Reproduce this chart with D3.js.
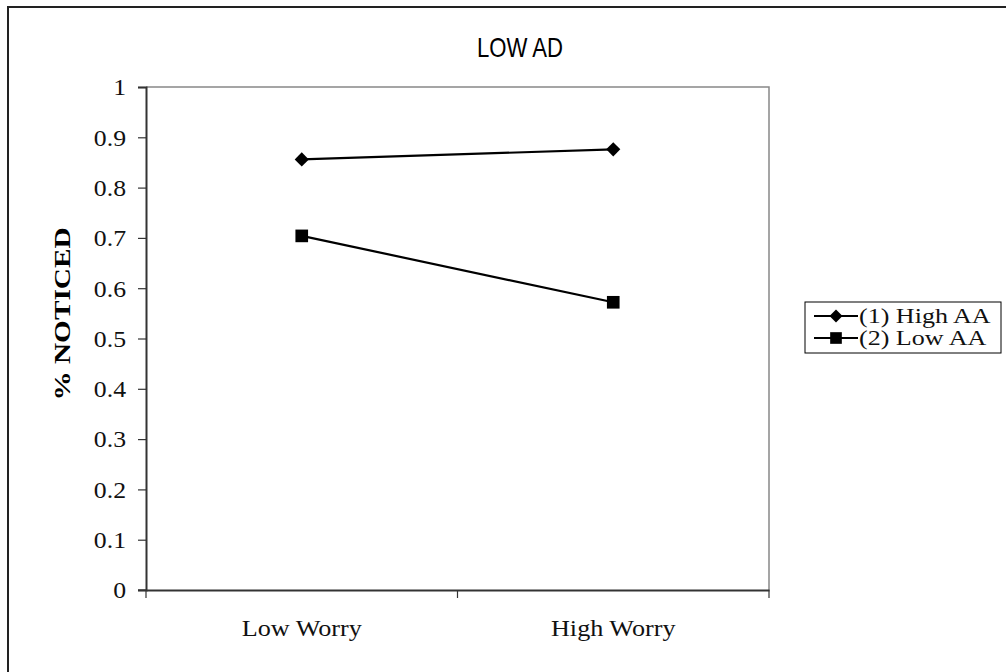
<!DOCTYPE html>
<html><head><meta charset="utf-8">
<script src="https://cdn.jsdelivr.net/npm/d3@7"></script>
<style>body{margin:0;background:#fff;}svg{display:block;}</style>
</head><body>
<svg id="c" width="1006" height="672"></svg>
<script>
const categories = ["Low Worry", "High Worry"];
const seriesNames = ["(1) High AA", "(2) Low AA"];
const highAA = [0.856, 0.876];
const lowAA = [0.704, 0.572];
const yTicks = [0, 0.1, 0.2, 0.3, 0.4, 0.5, 0.6, 0.7, 0.8, 0.9, 1];
const title = "LOW AD";
const yTitle = "% NOTICED";

const svg = d3.select("#c");
svg.append("rect").attr("x", 8).attr("y", 7).attr("width", 1100).attr("height", 800)
  .attr("fill", "#fff").attr("stroke", "#222").attr("stroke-width", 2);

const L = 146, R = 769, T = 87, B = 590;
const x = d3.scaleBand().domain(categories).range([L, R]);
const y = d3.scaleLinear().domain([0, 1]).range([B, T]);
const serif = "'Liberation Serif','Times New Roman',serif";

function stretch(sel, f) {
  sel.each(function () {
    const len = this.getComputedTextLength();
    d3.select(this).attr("textLength", len * f).attr("lengthAdjust", "spacingAndGlyphs");
  });
}

// plot frame (top/right)
svg.append("path").attr("d", `M${L},${T}H${R}V${B}`).attr("fill", "none")
  .attr("stroke", "#888").attr("stroke-width", 1.5);

// y axis
const ya = svg.append("g").attr("transform", `translate(${L},0)`)
  .call(d3.axisLeft(y).tickValues(yTicks).tickSize(8).tickPadding(12).tickFormat(d => String(+d.toFixed(1))));
ya.select(".domain").attr("stroke", "#333").attr("stroke-width", 2);
ya.selectAll(".tick line").attr("stroke", "#333").attr("stroke-width", 1.2);
ya.selectAll(".tick text").attr("font-family", serif).attr("font-size", 23).attr("fill", "#111").attr("dy", "0.34em");
stretch(ya.selectAll(".tick text"), 1.12);

// x axis
const xa = svg.append("g").attr("transform", `translate(0,${B})`)
  .call(d3.axisBottom(x).tickSize(0).tickPadding(0));
xa.select(".domain").attr("stroke", "#333").attr("stroke-width", 2);
xa.selectAll(".tick text").attr("font-family", serif).attr("font-size", 24).attr("fill", "#111")
  .attr("dy", null).attr("y", 46);
stretch(xa.selectAll(".tick text"), 1.09);
const bounds = [L, L + x.bandwidth(), R];
svg.append("g").selectAll("line").data(bounds).join("line")
  .attr("x1", d => d).attr("x2", d => d).attr("y1", B).attr("y2", B + 8)
  .attr("stroke", "#333").attr("stroke-width", 1.2);
svg.append("line").attr("x1", L - 8).attr("x2", L).attr("y1", B).attr("y2", B)
  .attr("stroke", "#333").attr("stroke-width", 1.2);

const cx = d => x(d) + x.bandwidth() / 2;
const line = d3.line().x((d, i) => cx(categories[i])).y(d => y(d));
const series = [highAA, lowAA];
const diamond = { draw(ctx, size) { const r = Math.sqrt(size / 2); ctx.moveTo(0, -r); ctx.lineTo(r, 0); ctx.lineTo(0, r); ctx.lineTo(-r, 0); ctx.closePath(); } };
const shapes = [diamond, d3.symbolSquare];
const sizes = [100, 160];

series.forEach((s, k) => {
  svg.append("path").attr("d", line(s)).attr("fill", "none").attr("stroke", "#000").attr("stroke-width", 2.2);
  svg.append("g").selectAll("path").data(s).join("path")
    .attr("transform", (d, i) => `translate(${cx(categories[i])},${y(d)})`)
    .attr("d", d3.symbol().type(shapes[k]).size(sizes[k])).attr("fill", "#000");
});

// title
svg.append("text").attr("x", 520).attr("y", 57).attr("text-anchor", "middle")
  .attr("font-family", "'Liberation Sans',Arial,sans-serif").attr("font-size", 28)
  .attr("textLength", 86).attr("lengthAdjust", "spacingAndGlyphs")
  .attr("fill", "#000").text(title);

// y title
const yt = svg.append("text").attr("transform", `translate(70,${314}) rotate(-90)`)
  .attr("text-anchor", "middle").attr("font-family", serif).attr("font-size", 24)
  .attr("font-weight", "bold").attr("fill", "#000").text(yTitle);
stretch(yt, 1.22);

// legend
const lg = svg.append("g");
lg.append("rect").attr("x", 805).attr("y", 302).attr("width", 196).attr("height", 51)
  .attr("fill", "#fff").attr("stroke", "#000").attr("stroke-width", 1);
seriesNames.forEach((n, k) => {
  const yy = 316 + k * 22;
  lg.append("line").attr("x1", 814).attr("x2", 858).attr("y1", yy).attr("y2", yy)
    .attr("stroke", "#000").attr("stroke-width", 2);
  lg.append("path").attr("transform", `translate(836,${yy})`)
    .attr("d", d3.symbol().type(shapes[k]).size(sizes[k] * 0.85)).attr("fill", "#000");
  const t = lg.append("text").attr("x", 859).attr("y", yy + 7).attr("font-family", serif)
    .attr("font-size", 21).attr("fill", "#111").text(n);
  stretch(t, 1.24);
});
</script>
</body></html>
